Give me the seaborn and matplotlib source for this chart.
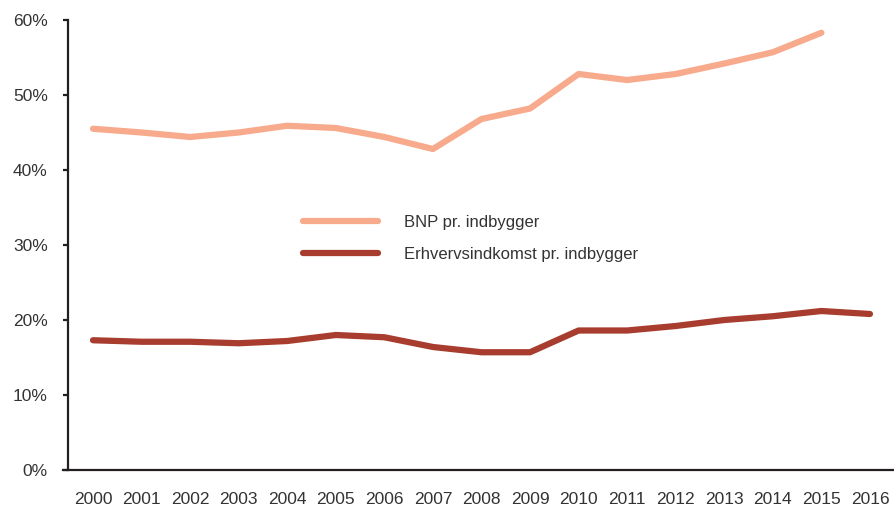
import matplotlib
matplotlib.use("Agg")
import matplotlib.pyplot as plt
import seaborn as sns
import pandas as pd

years = list(range(2000, 2017))
bnp = [45.5, 45.0, 44.4, 45.0, 45.9, 45.6, 44.4, 42.8, 46.8, 48.2, 52.8, 52.0, 52.8, 54.2, 55.7, 58.3, None]
erhverv = [17.3, 17.1, 17.1, 16.9, 17.2, 18.0, 17.7, 16.4, 15.7, 15.7, 18.6, 18.6, 19.2, 20.0, 20.5, 21.2, 20.8]
labels = ["BNP pr. indbygger", "Erhvervsindkomst pr. indbygger"]
colors = ["#F8AA8D", "#A83D2F"]
yticks = [0, 10, 20, 30, 40, 50, 60]

df = pd.DataFrame({
    "year": years * 2,
    "value": bnp + erhverv,
    "series": [labels[0]] * len(years) + [labels[1]] * len(years),
}).dropna()

sns.set_theme(style="white")
plt.rcParams["font.family"] = ["Liberation Sans", "DejaVu Sans"]

fig = plt.figure(figsize=(8.94, 5.12), dpi=100)
ax = fig.add_axes([68 / 894, 1 - 470 / 512, 1 - 68 / 894, 450 / 512])

sns.lineplot(data=df, x="year", y="value", hue="series", hue_order=labels,
             palette=colors, linewidth=4.5, ax=ax, solid_capstyle="round")

ax.set_xlim(1999.485, 2016.495)
ax.set_ylim(0, 60)
ax.set_yticks(yticks)
ax.set_yticklabels([f"{v}%" for v in yticks])
ax.set_xticks(years)
ax.set_xticklabels([str(y) for y in years])
ax.set_xlabel("")
ax.set_ylabel("")

for s in ["top", "right"]:
    ax.spines[s].set_visible(False)
for s in ["left", "bottom"]:
    ax.spines[s].set_color("#231F20")
    ax.spines[s].set_linewidth(1.6)
ax.spines["bottom"].set_bounds(1999.485 - 0.1, 2016.495)

ax.tick_params(axis="y", which="major", length=3.5, width=1.6, color="#231F20",
               labelsize=12.5, labelcolor="#333333", pad=11, left=True)
ax.tick_params(axis="x", which="major", length=0, labelsize=12.5,
               labelcolor="#333333", pad=15.5)

leg = ax.legend(loc="upper left", bbox_to_anchor=(0.284, 0.567), frameon=False,
                fontsize=12, handlelength=4.5, handletextpad=1.6,
                labelspacing=1.04, borderpad=0, borderaxespad=0)
for t in leg.get_texts():
    t.set_color("#333333")
for line in leg.get_lines():
    line.set_linewidth(4.5)
    line.set_solid_capstyle("round")

fig.savefig("out.png", dpi=100)
